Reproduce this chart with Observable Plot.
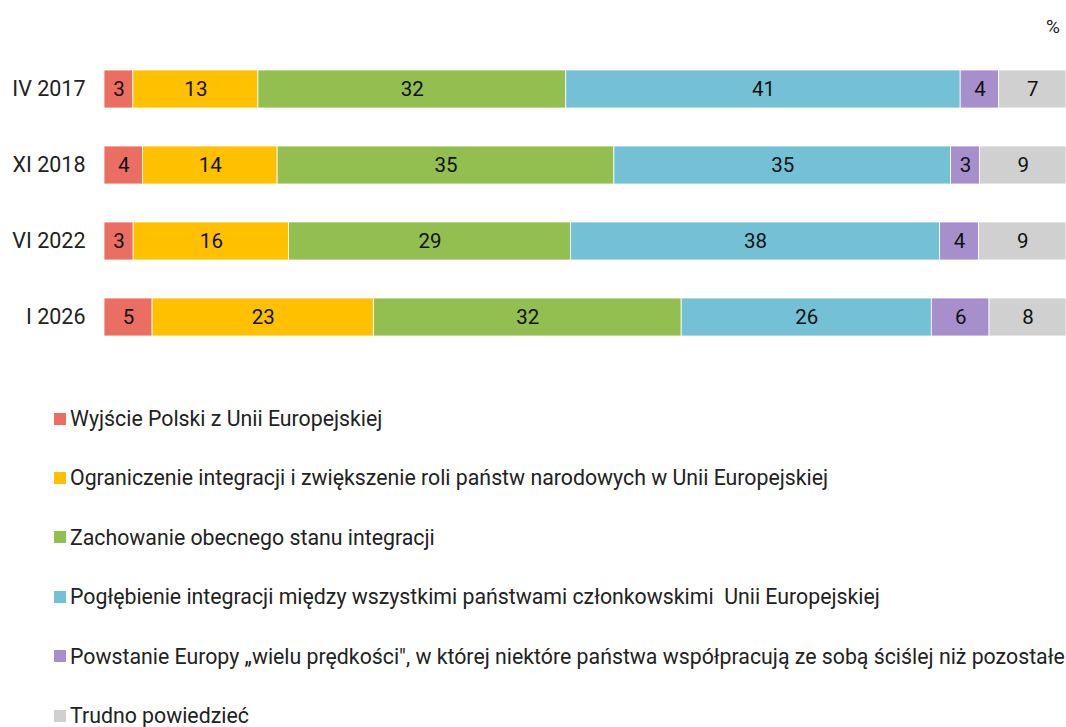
<!DOCTYPE html>
<html>
<head>
<meta charset="utf-8">
<script src="https://cdn.jsdelivr.net/npm/d3@7"></script>
<script src="https://cdn.jsdelivr.net/npm/@observablehq/plot@0.6"></script>
<style>
  html, body { margin: 0; padding: 0; background: #fff; }
  body { font-family: Roboto, "Noto Sans", sans-serif; color: #222; width: 1066px; height: 727px; overflow: hidden; }
  #wrap { position: relative; width: 1066px; }
  #unit { position: absolute; top: 15px; right: 6px; font-size: 19px; color: #222; }
  #legend { margin-top: 12px; }
  .item { height: 59.4px; display: flex; align-items: center; font-size: 21.3px; white-space: nowrap; line-height: 1.1; }
  .sw { width: 12px; height: 12px; margin-left: 54px; margin-right: 4px; flex: none; }
</style>
</head>
<body>
<div id="wrap"><div id="unit">%</div><div id="chart"></div></div>
<div id="legend"></div>
<script>
const periods = ["IV 2017", "XI 2018", "VI 2022", "I 2026"];
const categories = [
  "Wyjście Polski z Unii Europejskiej",
  "Ograniczenie integracji i zwiększenie roli państw narodowych w Unii Europejskiej",
  "Zachowanie obecnego stanu integracji",
  "Pogłębienie integracji między wszystkimi państwami członkowskimi  Unii Europejskiej",
  "Powstanie Europy \u201ewielu prędkości\", w której niektóre państwa współpracują ze sobą ściślej niż pozostałe",
  "Trudno powiedzieć"
];
const colors = ["#EB6E63", "#FFC000", "#92BF4F", "#74C1D5", "#A68FCB", "#D0D0D0"];
const vIV2017 = [3, 13, 32, 41, 4, 7];
const vXI2018 = [4, 14, 35, 35, 3, 9];
const vVI2022 = [3, 16, 29, 38, 4, 9];
const vI2026  = [5, 23, 32, 26, 6, 8];
const seriesValues = [vIV2017, vXI2018, vVI2022, vI2026];

const data = [];
periods.forEach((p, i) => {
  categories.forEach((c, j) => {
    data.push({period: p, cat: c, value: seriesValues[i][j]});
  });
});

const chart = Plot.plot({
  width: 1066,
  height: 377,
  marginTop: 30,
  marginBottom: 2,
  marginLeft: 104,
  marginRight: 0,
  style: {fontFamily: "Roboto, 'Noto Sans', sans-serif", fontSize: "21.5px", color: "#222", background: "#fff"},
  x: {domain: [0, 1], axis: null},
  y: {domain: periods, padding: 0.5, label: null, tickSize: 0, tickPadding: 19},
  color: {domain: categories, range: colors},
  marks: [
    Plot.barX(data, Plot.stackX({x: "value", y: "period", z: "cat", fill: "cat", offset: "normalize", stroke: "#fff", strokeWidth: 0.8})),
    Plot.textX(data, Plot.stackX({x: "value", y: "period", z: "cat", text: d => String(d.value), offset: "normalize", fill: "#111", fontSize: 20.5}))
  ]
});
document.getElementById("chart").appendChild(chart);

const legend = document.getElementById("legend");
categories.forEach((c, j) => {
  const item = document.createElement("div");
  item.className = "item";
  const sw = document.createElement("span");
  sw.className = "sw";
  sw.style.background = colors[j];
  const t = document.createElement("span");
  t.textContent = c;
  t.style.whiteSpace = "pre";
  item.appendChild(sw);
  item.appendChild(t);
  legend.appendChild(item);
});
</script>
</body>
</html>
